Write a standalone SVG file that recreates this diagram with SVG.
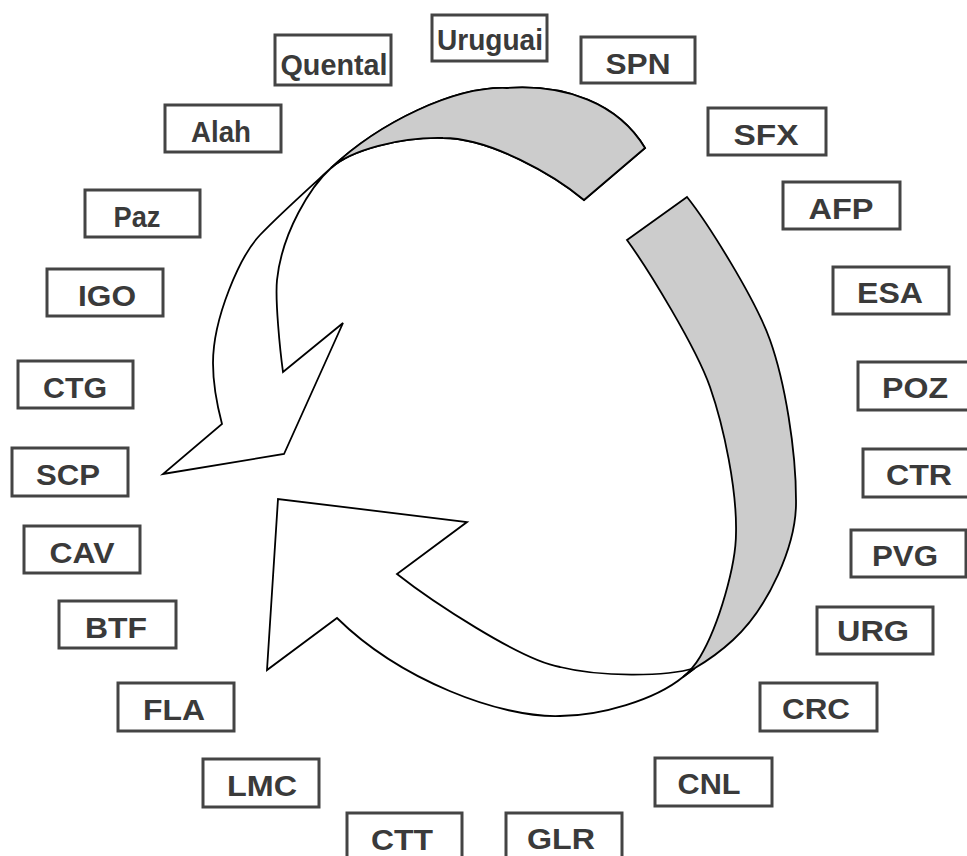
<svg xmlns="http://www.w3.org/2000/svg" width="967" height="856" viewBox="0 0 967 856">
<style>
.box rect{fill:#fff;stroke:#444;stroke-width:3}
.box text{font-family:"Liberation Sans",Arial,sans-serif;font-weight:bold;font-size:29px;fill:#3a3a3a;text-anchor:middle}
.ar{stroke:#000;stroke-width:1.8;stroke-linejoin:miter}
.w{fill:#fff}
.g{fill:#ccc}
</style>
<rect width="967" height="856" fill="#fff"/>
<g id="connectors">
<path class="ar w" d="M645,148 C618,103 565,84 507,88 C455,86 380,122 331,168 C307,190 278,216 260,235 C240,256 213,318 213,363 C213,385 217,405 222,424 L163,474 L284,454 L343,323 L283,372 C280,350 275,300 277,280 C282,232 311,186 331,168 C351,150 400,137 443,138 C490,138 554,175 584,200 Z"/>
<path class="ar g" d="M645,148 C618,103 565,84 507,88 C455,86 380,122 331,168 C351,150 400,137 443,138 C490,138 554,175 584,200 Z"/>
<path class="ar w" d="M695,668 C665,677 600,677 560,667 C520,660 430,600 397,574 L467,522 L278,499 L267,670 L337,618 C400,680 500,718 560,716 C600,716 655,700 683,677 L695,668 Z"/>
<path class="ar g" d="M627,240 L687,197 C707,222 755,298 770,340 C785,382 796,450 796,500 C797,545 768,608 733,640 C720,652 707,661 695,668 L683,677 C689,672 694,667 700,657 C719,625 736,565 736,533 C737,490 724,427 710,387 C696,347 648,269 627,240 Z"/>
</g>
<g id="n-quental" class="box"><rect x="275" y="35" width="116" height="50"/><text x="334" y="75" textLength="107" lengthAdjust="spacingAndGlyphs">Quental</text></g>
<g id="n-uruguai" class="box"><rect x="432" y="15" width="115" height="46"/><text x="490" y="50" textLength="106" lengthAdjust="spacingAndGlyphs">Uruguai</text></g>
<g id="n-spn" class="box"><rect x="581" y="37" width="114" height="46"/><text x="638" y="74" textLength="65" lengthAdjust="spacingAndGlyphs">SPN</text></g>
<g id="n-sfx" class="box"><rect x="708" y="108" width="118" height="47"/><text x="766" y="145" textLength="65" lengthAdjust="spacingAndGlyphs">SFX</text></g>
<g id="n-afp" class="box"><rect x="783" y="182" width="117" height="47"/><text x="841" y="219" textLength="65" lengthAdjust="spacingAndGlyphs">AFP</text></g>
<g id="n-esa" class="box"><rect x="833" y="267" width="116" height="47"/><text x="890" y="303" textLength="66" lengthAdjust="spacingAndGlyphs">ESA</text></g>
<g id="n-poz" class="box"><rect x="858" y="362" width="116" height="48"/><text x="915" y="398" textLength="66" lengthAdjust="spacingAndGlyphs">POZ</text></g>
<g id="n-ctr" class="box"><rect x="863" y="449" width="116" height="48"/><text x="919" y="485" textLength="66" lengthAdjust="spacingAndGlyphs">CTR</text></g>
<g id="n-pvg" class="box"><rect x="851" y="530" width="115" height="47"/><text x="905" y="566" textLength="66" lengthAdjust="spacingAndGlyphs">PVG</text></g>
<g id="n-urg" class="box"><rect x="817" y="607" width="116" height="47"/><text x="873" y="641" textLength="72" lengthAdjust="spacingAndGlyphs">URG</text></g>
<g id="n-crc" class="box"><rect x="760" y="683" width="117" height="48"/><text x="816" y="719" textLength="68" lengthAdjust="spacingAndGlyphs">CRC</text></g>
<g id="n-cnl" class="box"><rect x="655" y="758" width="117" height="48"/><text x="709" y="794" textLength="63" lengthAdjust="spacingAndGlyphs">CNL</text></g>
<g id="n-glr" class="box"><rect x="506" y="813" width="116" height="48"/><text x="561" y="849" textLength="68" lengthAdjust="spacingAndGlyphs">GLR</text></g>
<g id="n-ctt" class="box"><rect x="347" y="813" width="115" height="48"/><text x="402" y="850" textLength="62" lengthAdjust="spacingAndGlyphs">CTT</text></g>
<g id="n-lmc" class="box"><rect x="203" y="759" width="116" height="48"/><text x="262" y="796" textLength="70" lengthAdjust="spacingAndGlyphs">LMC</text></g>
<g id="n-fla" class="box"><rect x="118" y="683" width="116" height="48"/><text x="174" y="720" textLength="62" lengthAdjust="spacingAndGlyphs">FLA</text></g>
<g id="n-btf" class="box"><rect x="59" y="601" width="117" height="47"/><text x="116" y="638" textLength="62" lengthAdjust="spacingAndGlyphs">BTF</text></g>
<g id="n-cav" class="box"><rect x="24" y="526" width="116" height="47"/><text x="82" y="563" textLength="65" lengthAdjust="spacingAndGlyphs">CAV</text></g>
<g id="n-scp" class="box"><rect x="12" y="448" width="116" height="48"/><text x="68" y="485" textLength="64" lengthAdjust="spacingAndGlyphs">SCP</text></g>
<g id="n-ctg" class="box"><rect x="18" y="361" width="115" height="47"/><text x="75" y="398" textLength="64" lengthAdjust="spacingAndGlyphs">CTG</text></g>
<g id="n-igo" class="box"><rect x="47" y="269" width="116" height="47"/><text x="107" y="306" textLength="58" lengthAdjust="spacingAndGlyphs">IGO</text></g>
<g id="n-paz" class="box"><rect x="85" y="190" width="115" height="47"/><text x="137" y="227" textLength="47" lengthAdjust="spacingAndGlyphs">Paz</text></g>
<g id="n-alah" class="box"><rect x="165" y="105" width="116" height="47"/><text x="221" y="142" textLength="60" lengthAdjust="spacingAndGlyphs">Alah</text></g>
</svg>
